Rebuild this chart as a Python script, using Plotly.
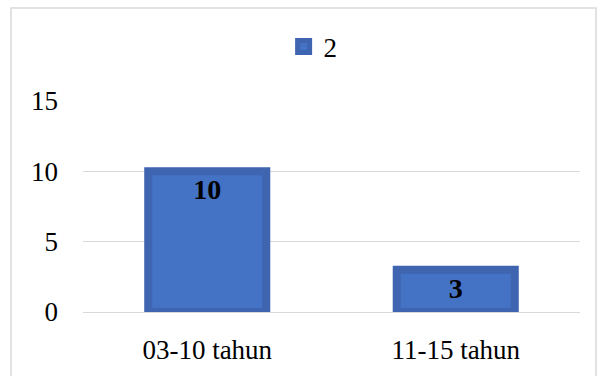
import plotly.graph_objects as go

categories = ["03-10 tahun", "11-15 tahun"]
values = [10, 3]
series_name = "2"
y_ticks = [0, 5, 10, 15]

FONT = "Liberation Serif"

fig = go.Figure()
fig.add_trace(go.Bar(
    x=categories,
    y=values,
    name=series_name,
    marker=dict(color="#4472C4", line=dict(color="#3F64B0", width=8)),
    text=[str(v) for v in values],
    textposition="inside",
    insidetextanchor="end",
    textfont=dict(family=FONT, size=28, color="#000000", weight="bold"),
    showlegend=True,
))

fig.update_layout(
    width=597, height=376,
    margin=dict(l=83, r=17, t=101, b=64),
    paper_bgcolor="white",
    plot_bgcolor="white",
    font=dict(family=FONT, size=27, color="#000000"),
    bargap=0.525,
    showlegend=True,
    legend=dict(
        orientation="h",
        x=0.463, y=1.256, xanchor="center", yanchor="middle",
        font=dict(family=FONT, size=27, color="#000000"),
        itemwidth=30,
        bgcolor="rgba(0,0,0,0)",
    ),
    xaxis=dict(
        showgrid=False, showline=False, zeroline=False,
        tickfont=dict(family=FONT, size=27, color="#000000"),
        ticklabelstandoff=19,
    ),
    yaxis=dict(
        range=[0, 15],
        tickvals=y_ticks,
        showgrid=True, gridcolor="#D9D9D9", gridwidth=1,
        zeroline=True, zerolinecolor="#D9D9D9", zerolinewidth=1,
        showline=False,
        tickfont=dict(family=FONT, size=27, color="#000000"),
        ticklabelstandoff=24,
    ),
    shapes=[dict(
        type="rect", xref="paper", yref="paper",
        x0=-0.1449, x1=1.0322, y0=-0.33, y1=1.4408,
        line=dict(color="#D9D9D9", width=1.5),
        fillcolor="rgba(0,0,0,0)", layer="below",
    )],
)

fig.write_html("out.html")
